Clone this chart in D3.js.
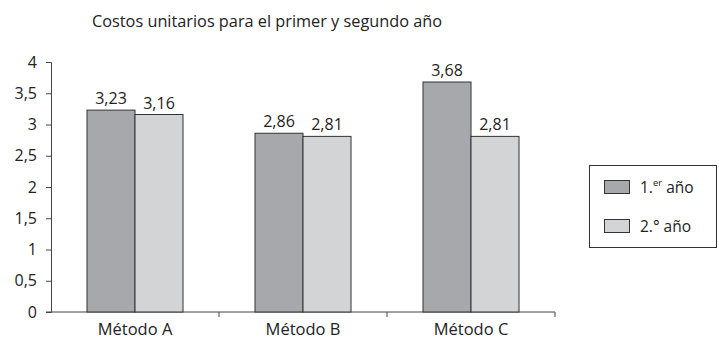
<!DOCTYPE html>
<html>
<head>
<meta charset="utf-8">
<script src="https://cdn.jsdelivr.net/npm/d3@7"></script>
<style>
  html, body { margin: 0; padding: 0; background: #fff; }
  svg text { font-family: "Open Sans", "Noto Sans", sans-serif; fill: #222; }
</style>
</head>
<body>
<svg id="chart" width="719" height="340"></svg>
<script>
const categories = ["Método A", "Método B", "Método C"];
const series = ["1.er año", "2.° año"];
const firstYear = [3.23, 2.86, 3.68];
const secondYear = [3.16, 2.81, 2.81];
const yTicks = [0, 0.5, 1, 1.5, 2, 2.5, 3, 3.5, 4];
const title = "Costos unitarios para el primer y segundo año";

const colors = ["#a7a8ac", "#d3d4d6"];
const values = [firstYear, secondYear];

const svg = d3.select("#chart");
const plotLeft = 51, plotRight = 555, plotTop = 62, plotBottom = 312;

const x = d3.scaleBand().domain(categories).range([plotLeft, plotRight]).paddingInner(0).paddingOuter(0);
const y = d3.scaleLinear().domain([0, 4]).range([plotBottom, plotTop]);
const groupInner = 96;
const xs = d3.scaleBand().domain(d3.range(series.length)).range([0, groupInner]);
const fmt = v => String(v).replace(".", ",");

// Title
svg.append("text").attr("x", 92).attr("y", 27).attr("font-size", 16.3).text(title);

// Y axis
const yAxis = svg.append("g").attr("transform", `translate(${plotLeft},0)`)
  .call(d3.axisLeft(y).tickValues(yTicks).tickSize(5).tickPadding(9).tickFormat(fmt));
yAxis.selectAll("text").attr("font-size", 16).attr("dy", "0.32em");

// X axis: ticks at band boundaries
const xAxis = svg.append("g").attr("transform", `translate(0,${plotBottom})`);
xAxis.append("line").attr("x1", plotLeft - 5).attr("x2", plotRight).attr("y1", 0).attr("y2", 0);
xAxis.selectAll("line.tick").data(categories).join("line").attr("class", "tick")
  .attr("x1", d => x(d) + x.bandwidth()).attr("x2", d => x(d) + x.bandwidth())
  .attr("y1", 0).attr("y2", 5);
xAxis.selectAll("text").data(categories).join("text")
  .attr("x", d => x(d) + x.bandwidth() / 2).attr("y", 23)
  .attr("text-anchor", "middle").attr("font-size", 16.5).text(d => d);

svg.selectAll(".domain, .tick line, g line").attr("stroke", "#444").attr("stroke-width", 1);

// Bars
const offset = (x.bandwidth() - groupInner) / 2;
series.forEach((s, si) => {
  const g = svg.append("g");
  g.selectAll("rect").data(categories).join("rect")
    .attr("x", d => x(d) + offset + xs(si))
    .attr("y", (d, i) => y(values[si][i]))
    .attr("width", xs.bandwidth())
    .attr("height", (d, i) => plotBottom - y(values[si][i]))
    .attr("fill", colors[si]).attr("stroke", "#333").attr("stroke-width", 1);
  g.selectAll("text").data(categories).join("text")
    .attr("x", d => x(d) + offset + xs(si) + xs.bandwidth() / 2)
    .attr("y", (d, i) => y(values[si][i]) - 6)
    .attr("text-anchor", "middle").attr("font-size", 16)
    .text((d, i) => fmt(values[si][i]));
});

// Legend
const lg = svg.append("g");
lg.append("rect").attr("x", 589.5).attr("y", 165.5).attr("width", 127).attr("height", 82)
  .attr("fill", "none").attr("stroke", "#333");
const legendRows = [
  { base: "1.", sup: "er", rest: " año" },
  { base: "2.", sup: null, rest: "° año" }
];
legendRows.forEach((r, i) => {
  const yy = 180 + i * 39;
  lg.append("rect").attr("x", 604.5).attr("y", yy + 0.5).attr("width", 25).attr("height", 13)
    .attr("fill", colors[i]).attr("stroke", "#333");
  const t = lg.append("text").attr("x", 640).attr("y", yy + 13).attr("font-size", 15.5);
  t.append("tspan").text(r.base);
  if (r.sup) t.append("tspan").attr("font-size", 9.5).attr("dy", -7).text(r.sup);
  t.append("tspan").attr("dy", r.sup ? 7 : 0).text(r.rest);
});
</script>
</body>
</html>
